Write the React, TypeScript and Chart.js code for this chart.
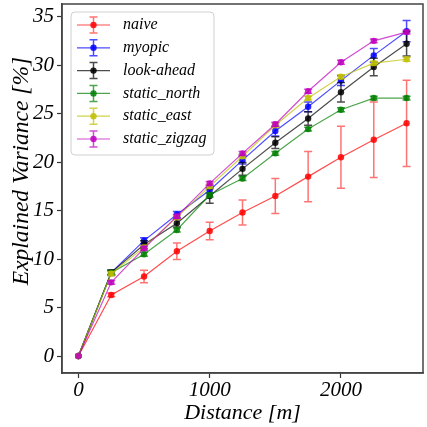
import React, { useEffect, useRef } from "react";
import { Chart, registerables } from "chart.js";

Chart.register(...registerables);

// ---------- data ----------
const distances = [0, 250, 500, 750, 1000, 1250, 1500, 1750, 2000, 2250, 2500];

const seriesNames = ["naive", "myopic", "look-ahead", "static_north", "static_east", "static_zigzag"];

const naive = [0, 6.3, 8.2, 10.8, 12.9, 14.8, 16.5, 18.5, 20.5, 22.3, 24.0];
const naiveErr = [0, 0.2, 0.65, 0.85, 0.9, 1.3, 1.8, 2.6, 3.2, 3.9, 4.45];

const myopic = [0, 8.6, 11.9, 14.6, 17.1, 20.2, 23.2, 25.7, 28.4, 31.0, 33.5];
const myopicErr = [0, 0.2, 0.3, 0.3, 0.3, 0.4, 0.5, 0.5, 0.5, 0.7, 1.1];

const lookAhead = [0, 8.6, 11.5, 13.7, 16.5, 19.3, 22.0, 24.5, 27.2, 29.8, 32.2];
const lookAheadErr = [0, 0.3, 0.4, 0.4, 0.75, 0.65, 0.6, 0.7, 1.0, 0.9, 1.25];

const staticNorth = [0, 8.6, 10.5, 13.0, 16.6, 18.3, 20.9, 23.4, 25.4, 26.6, 26.6];
const staticNorthErr = [0, 0.2, 0.2, 0.2, 0.2, 0.2, 0.2, 0.2, 0.2, 0.2, 0.2];

const staticEast = [0, 8.5, 11.2, 14.3, 17.5, 20.6, 23.8, 26.6, 28.8, 30.2, 30.6];
const staticEastErr = [0, 0.2, 0.2, 0.2, 0.2, 0.2, 0.2, 0.2, 0.2, 0.2, 0.2];

const staticZigzag = [0, 7.6, 11.1, 14.4, 17.8, 20.9, 23.9, 27.3, 30.3, 32.5, 33.4];
const staticZigzagErr = [0, 0.2, 0.2, 0.2, 0.2, 0.2, 0.2, 0.2, 0.2, 0.2, 0.2];

const xTicks = [0, 1000, 2000];
const yTicks = [0, 5, 10, 15, 20, 25, 30, 35];

const xLabel = "Distance [m]";
const yLabel = "Explained Variance [%]";

// ---------- styles ----------
const seriesValues = [naive, myopic, lookAhead, staticNorth, staticEast, staticZigzag];
const seriesErrors = [naiveErr, myopicErr, lookAheadErr, staticNorthErr, staticEastErr, staticZigzagErr];
const seriesRGB = ["255,0,0", "0,0,255", "0,0,0", "0,128,0", "191,191,0", "191,0,191"];
const LINE_ALPHA = 0.7;
const MARK_ALPHA = 0.85;
const SERIF = "'Liberation Serif', 'Times New Roman', serif";

const errorBarPlugin = {
  id: "errorBars",
  afterDatasetDraw(chart: any, args: any) {
    const ds: any = chart.data.datasets[args.index];
    const errs: number[] = ds.errors;
    if (!errs) return;
    const ctx = chart.ctx;
    const xs = chart.scales.x;
    const ys = chart.scales.y;
    ctx.save();
    ctx.strokeStyle = ds.errColor;
    ctx.lineWidth = 1.5;
    ds.data.forEach((p: any, j: number) => {
      const e = errs[j];
      if (!e) return;
      const px = xs.getPixelForValue(p.x);
      const y1 = ys.getPixelForValue(p.y + e);
      const y2 = ys.getPixelForValue(p.y - e);
      ctx.beginPath();
      ctx.moveTo(px, y1);
      ctx.lineTo(px, y2);
      ctx.moveTo(px - 4, y1);
      ctx.lineTo(px + 4, y1);
      ctx.moveTo(px - 4, y2);
      ctx.lineTo(px + 4, y2);
      ctx.stroke();
    });
    ctx.restore();
  },
};

const framePlugin = {
  id: "frameAndLegend",
  afterDraw(chart: any) {
    const ctx = chart.ctx;
    const a = chart.chartArea;
    ctx.save();
    // frame
    ctx.strokeStyle = "#444";
    ctx.lineWidth = 1.5;
    ctx.strokeRect(a.left, a.top, a.right - a.left, a.bottom - a.top);

    // y-axis title
    ctx.save();
    ctx.translate(22, 171);
    ctx.rotate(-Math.PI / 2);
    ctx.font = `italic 23.5px ${SERIF}`;
    ctx.fillStyle = "#000";
    ctx.textAlign = "center";
    ctx.textBaseline = "middle";
    ctx.fillText(yLabel, 0, 0);
    ctx.restore();

    // legend
    const bx = a.left + 9;
    const by = a.top + 8;
    const bw = 143;
    const bh = 143;
    const r = 4;
    ctx.beginPath();
    ctx.moveTo(bx + r, by);
    ctx.arcTo(bx + bw, by, bx + bw, by + bh, r);
    ctx.arcTo(bx + bw, by + bh, bx, by + bh, r);
    ctx.arcTo(bx, by + bh, bx, by, r);
    ctx.arcTo(bx, by, bx + bw, by, r);
    ctx.closePath();
    ctx.fillStyle = "rgba(255,255,255,0.8)";
    ctx.fill();
    ctx.strokeStyle = "#d0d0d0";
    ctx.lineWidth = 1;
    ctx.stroke();

    chart.data.datasets.forEach((ds: any, i: number) => {
      const cy = by + 13 + i * 22.8;
      const x0 = bx + 6;
      const x1 = bx + 39;
      const cx = (x0 + x1) / 2;
      ctx.strokeStyle = ds.borderColor;
      ctx.lineWidth = 1.2;
      ctx.beginPath();
      ctx.moveTo(x0, cy);
      ctx.lineTo(x1, cy);
      ctx.stroke();
      ctx.strokeStyle = ds.errColor;
      ctx.lineWidth = 1.5;
      ctx.beginPath();
      ctx.moveTo(cx, cy - 8);
      ctx.lineTo(cx, cy + 8);
      ctx.moveTo(cx - 4, cy - 8);
      ctx.lineTo(cx + 4, cy - 8);
      ctx.moveTo(cx - 4, cy + 8);
      ctx.lineTo(cx + 4, cy + 8);
      ctx.stroke();
      ctx.fillStyle = ds.pointBackgroundColor;
      ctx.beginPath();
      ctx.arc(cx, cy, 3.2, 0, Math.PI * 2);
      ctx.fill();
      ctx.fillStyle = "#000";
      ctx.font = `italic 16px ${SERIF}`;
      ctx.textAlign = "left";
      ctx.textBaseline = "middle";
      ctx.fillText(ds.label, bx + 52, cy);
    });
    ctx.restore();
  },
};

export default function App() {
  const canvasRef = useRef<HTMLCanvasElement | null>(null);

  useEffect(() => {
    document.body.style.margin = "0";
    const canvas = canvasRef.current;
    if (!canvas) return;

    const datasets = seriesNames.map((name, i) => ({
      label: name,
      data: distances.map((d, j) => ({ x: d, y: seriesValues[i][j] })),
      errors: seriesErrors[i],
      errColor: `rgba(${seriesRGB[i]},${i === 0 ? 0.55 : 0.7})`,
      borderColor: `rgba(${seriesRGB[i]},${LINE_ALPHA})`,
      backgroundColor: `rgba(${seriesRGB[i]},${MARK_ALPHA})`,
      pointBackgroundColor: `rgba(${seriesRGB[i]},${MARK_ALPHA})`,
      pointBorderWidth: 0,
      pointRadius: 3.2,
      borderWidth: 1.2,
      tension: 0,
      order: seriesNames.length - i,
    }));

    const tickFont = { family: SERIF, size: 21, style: "italic" as const };

    const chart = new Chart(canvas, {
      type: "line",
      data: { datasets: datasets as any },
      options: {
        animation: false,
        responsive: false,
        maintainAspectRatio: false,
        layout: { padding: { top: 4, right: 1, left: 0, bottom: 0 } },
        plugins: { legend: { display: false }, tooltip: { enabled: false } },
        scales: {
          x: {
            type: "linear",
            min: -125,
            max: 2625,
            afterBuildTicks: (s: any) => {
              s.ticks = xTicks.map((v) => ({ value: v }));
            },
            afterFit: (s: any) => {
              s.height = 54;
              s.paddingLeft = 0;
              s.paddingRight = 0;
            },
            grid: { drawOnChartArea: false, drawTicks: true, tickLength: 5, color: "#333", tickWidth: 1.2 },
            border: { display: true, color: "#444", width: 1.5 },
            ticks: { font: tickFont, color: "#000", padding: 0, maxRotation: 0, callback: (v: any) => String(v) },
            title: {
              display: true,
              text: xLabel,
              font: { family: SERIF, size: 22, style: "italic" },
              color: "#000",
              padding: { top: 0, bottom: 1 },
            },
          },
          y: {
            type: "linear",
            min: -1.75,
            max: 36.3,
            afterBuildTicks: (s: any) => {
              s.ticks = yTicks.map((v) => ({ value: v }));
            },
            afterFit: (s: any) => {
              s.width = 62;
              s.paddingTop = 0;
              s.paddingBottom = 0;
            },
            grid: { drawOnChartArea: false, drawTicks: true, tickLength: 5, color: "#333", tickWidth: 1.2 },
            border: { display: true, color: "#444", width: 1.5 },
            ticks: { font: tickFont, color: "#000", padding: 3, callback: (v: any) => String(v) },
          },
        },
      },
      plugins: [errorBarPlugin, framePlugin],
    });

    return () => chart.destroy();
  }, []);

  return <canvas ref={canvasRef} width={427} height={427} style={{ display: "block" }} />;
}
